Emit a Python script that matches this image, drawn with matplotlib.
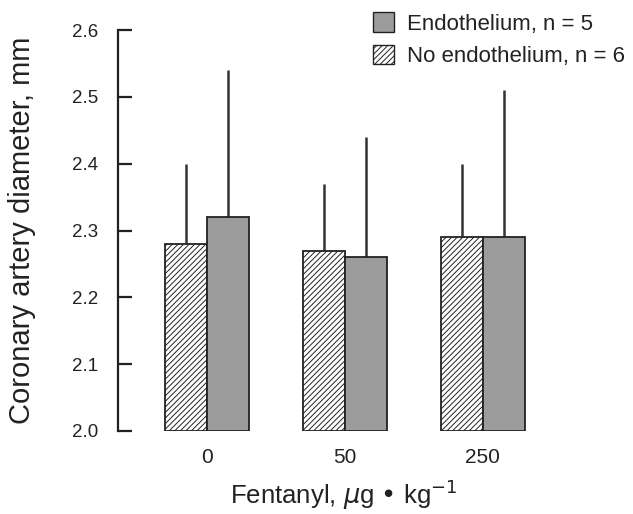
import numpy as np
import matplotlib
matplotlib.use("Agg")
import matplotlib.pyplot as plt
from matplotlib.patches import Patch

plt.rcParams['font.family'] = ['Liberation Sans', 'DejaVu Sans']
plt.rcParams['hatch.linewidth'] = 0.7

# Datos
doses = ["0", "50", "250"]
no_endo_mean = [2.28, 2.27, 2.29]
no_endo_sd = [0.12, 0.10, 0.11]
endo_mean = [2.32, 2.26, 2.29]
endo_sd = [0.22, 0.18, 0.22]

fig = plt.figure(figsize=(6.33, 5.14), dpi=100)
ax = fig.add_axes([0.186, 0.1615, 0.70, 0.78])

x = np.arange(len(doses))
w = 0.305
base = 2.0

ax.bar(x - w / 2, np.array(no_endo_mean) - base, w, bottom=base, facecolor='white',
       edgecolor='#222222', hatch='//////', linewidth=1.3, zorder=3)
ax.bar(x + w / 2, np.array(endo_mean) - base, w, bottom=base, facecolor='#9c9c9c',
       edgecolor='#222222', linewidth=1.3, zorder=3)

# barras de error solo hacia arriba, sin tapas
ax.errorbar(x - w / 2, no_endo_mean, yerr=[np.zeros(3), no_endo_sd], fmt='none',
            ecolor='#333333', elinewidth=1.8, capsize=0, zorder=2)
ax.errorbar(x + w / 2, endo_mean, yerr=[np.zeros(3), endo_sd], fmt='none',
            ecolor='#333333', elinewidth=1.8, capsize=0, zorder=2)

ax.set_ylim(2.0, 2.6)
ax.set_xlim(-0.647, 2.567)
ax.set_yticks(np.arange(2.0, 2.61, 0.1))
ax.set_yticklabels([f"{v:.1f}" for v in np.arange(2.0, 2.61, 0.1)])
ax.set_xticks(x)
ax.set_xticklabels(doses)

for s in ['top', 'right', 'bottom']:
    ax.spines[s].set_visible(False)
ax.spines['left'].set_linewidth(1.6)
ax.spines['left'].set_color('#222222')
ax.tick_params(axis='y', direction='in', length=10, width=1.6, labelsize=13.5, pad=14,
               color='#222222', labelcolor='#222222')
ax.tick_params(axis='x', length=0, labelsize=15, pad=12, labelcolor='#222222')

ax.set_ylabel('Coronary artery diameter, mm', fontsize=21, labelpad=26, color='#222222')
ax.set_xlabel('Fentanyl, $\\mu$g • kg$^{-1}$', fontsize=18.5, labelpad=6, color='#222222')
ax.xaxis.set_label_coords(0.51, -0.115)

handles = [Patch(facecolor='#9c9c9c', edgecolor='#222222', label='Endothelium, n = 5'),
           Patch(facecolor='white', edgecolor='#222222', hatch='//////',
                 label='No endothelium, n = 6')]
fig.legend(handles=handles, loc='upper left', bbox_to_anchor=(0.589, 0.976), frameon=False,
           fontsize=16, handlelength=0.95, handleheight=0.95, handletextpad=0.6,
           labelspacing=0.45, borderpad=0, borderaxespad=0, labelcolor='#222222')

fig.savefig('out.png', dpi=100)
